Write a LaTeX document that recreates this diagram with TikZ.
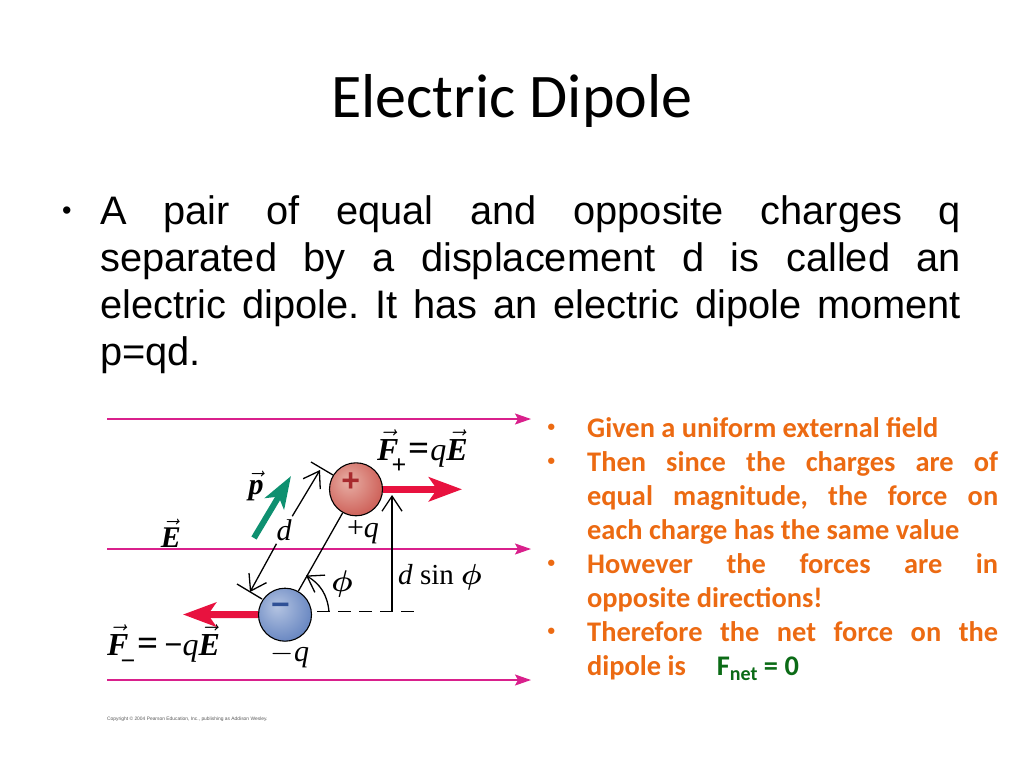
\documentclass[tikz,border=0pt]{standalone}
\usepackage{fix-cm}
\usepackage{fontspec}
\usetikzlibrary{arrows.meta}
\newfontfamily\slidefont{Carlito}
\newfontfamily\bodyfont{Liberation Sans}
\newfontfamily\labelfont{Liberation Serif}
\definecolor{fieldpink}{HTML}{D9208C}
\definecolor{forcered}{HTML}{E8123F}
\definecolor{momentgreen}{HTML}{0E9070}
\definecolor{noteorange}{HTML}{EC6A12}
\definecolor{netgreen}{HTML}{0B6B16}
\definecolor{poslight}{HTML}{E8B0A6}
\definecolor{posmid}{HTML}{D0675F}
\definecolor{posdark}{HTML}{A82A2E}
\definecolor{neglight}{HTML}{B4C4E2}
\definecolor{negmid}{HTML}{6F8CC4}
\definecolor{negdark}{HTML}{2F5096}
\pgfdeclareradialshading{posball}{\pgfpoint{-8bp}{8bp}}{color(0bp)=(poslight);color(28bp)=(posmid);color(55bp)=(posdark);color(72bp)=(posdark)}
\pgfdeclareradialshading{negball}{\pgfpoint{-8bp}{8bp}}{color(0bp)=(neglight);color(28bp)=(negmid);color(55bp)=(negdark);color(72bp)=(negdark)}
\newcommand{\vecbf}[1]{$\vec{\mbox{\bfseries\itshape #1}}$}
\newcommand{\bigeq}{{\bfseries\fontsize{37}{37}\selectfont =}}
\newcommand{\phibf}{\mbox{\boldmath$\phi$}}
\hbadness=10000
\frenchspacing
\tikzset{
  fieldline/.style={draw=fieldpink,line width=1.7pt,-{Stealth[length=16pt,width=11pt,inset=3pt]}},
  forcearrow/.style={draw=forcered,line width=7pt,-{Stealth[length=33pt,width=24pt,inset=8pt]}},
  momentarrow/.style={draw=momentgreen,line width=6pt,-{Stealth[length=32pt,width=22pt,inset=8pt]}},
  dimline/.style={line width=1.3pt,-{Straight Barb[length=15pt,width=20pt,line width=1.3pt]}},
  charge/.style={circle,draw,line width=1.1pt,minimum size=53pt,inner sep=0pt},
  sym/.style={font=\labelfont\fontsize{30}{30}\selectfont,inner sep=0pt},
  force/.style={font=\labelfont\fontsize{32}{32}\selectfont,inner sep=0pt,anchor=base west},
  notes/.style={font=\slidefont\bfseries\fontsize{28.4}{34}\selectfont,text=noteorange,inner sep=0pt},
  dot/.style={font=\slidefont\bfseries\fontsize{15}{15}\selectfont,text=noteorange,inner sep=0pt,anchor=base west},
}
\begin{document}
\begin{tikzpicture}[x=1pt,y=-1pt]
      \useasboundingbox (0,0) rectangle (1024,768);
      \draw
        (512,117) node[anchor=base,inner sep=0pt,font=\slidefont\fontsize{62}{62}\selectfont] (title){Electric Dipole}
        (62,219) node[anchor=base west,inner sep=0pt,font=\bodyfont\fontsize{27}{27}\selectfont] (bulleta){•}
        (100,195) node[anchor=north west,inner sep=0pt,text width=861pt,align=justify,font=\bodyfont\fontsize{39.8}{47.3}\selectfont] (intro){A pair of equal and opposite charges q\linebreak separated by a displacement d is called an\linebreak electric dipole. It has an electric dipole moment\linebreak p=qd.};
      \draw
        (107,419) coordinate (fieldaw)
        (531,419) coordinate (fieldae)
        (107,549) coordinate (fieldbw)
        (531,549) coordinate (fieldbe)
        (107,680) coordinate (fieldcw)
        (531,680) coordinate (fieldce)
        (254,538) coordinate (pstart)
        (291,476) coordinate (pend)
        (462,489.3) coordinate (fplusend)
        (183,614.5) coordinate (fminusend)
        (311,462) coordinate (ticka)
        (333,475) coordinate (tickb)
        (237,584) coordinate (tickc)
        (262,599) coordinate (tickd)
        (320,470) coordinate (dtop)
        (250,592) coordinate (dbottom)
        (329,611.7) coordinate (phistart)
        (306,575.5) coordinate (phiend)
        (317,611.7) coordinate (dashstart)
        (415,611.7) coordinate (dashend)
        (392,495) coordinate (sintop)
        (392,611.7) coordinate (sinbottom);
      \begin{scope}[fieldline]
        \draw (fieldaw) to (fieldae);
        \draw (fieldbw) to (fieldbe);
        \draw (fieldcw) to (fieldce);
      \end{scope}
      \draw
        (356,489.3) node[charge,shading=posball] (pos){}
        (285,614.7) node[charge,shading=negball] (neg){}
        (350.7,482) node[inner sep=0pt,text=posdark,font=\bodyfont\bfseries\fontsize{32}{32}\selectfont] (possign){+}
        (280.5,609) node[inner sep=0pt,text=negdark,font=\bodyfont\bfseries\fontsize{32}{32}\selectfont] (negsign){−}
        (284,530) node[sym,inner sep=3pt] (dlabel){\itshape d}
        (171,533) node[sym] (efield){\vecbf{E}}
        (256,486) node[sym] (plabel){\vecbf{p}}
        (363,532) node[sym] (qplus){+\textit{q}}
        (290,656) node[sym] (qminus){$-$\textit{q}}
        (342,584) node[sym] (philabel){\phibf}
        (440,577) node[sym,font=\labelfont\fontsize{29}{29}\selectfont] (sinlabel){\textit{d} sin \phibf}
        (377,460) node[force] (fplus){\vecbf{F}\kern-7pt\raisebox{-13pt}{\bfseries\fontsize{26}{26}\selectfont +}\kern2pt\bigeq\kern1pt\textit{q}\vecbf{E}}
        (107,655) node[force] (fminus){\vecbf{F}\kern-8pt\raisebox{-14pt}{\bfseries\fontsize{26}{26}\selectfont −}\kern2pt\bigeq\kern6pt\textbf{−}\textit{q}\vecbf{E}}
        (107,720) node[anchor=base west,inner sep=0pt,text=black!65,font=\bodyfont\fontsize{4.9}{6}\selectfont] (copyright){Copyright © 2004 Pearson Education, Inc., publishing as Addison Wesley.};
      \draw[forcearrow] (pos) to (fplusend);
      \draw[forcearrow] (neg) to (fminusend);
      \draw[momentarrow] (pstart) to (pend);
      \begin{scope}[line width=1.3pt]
        \draw (pos) to (neg);
        \draw (ticka) to (tickb);
        \draw (tickc) to (tickd);
        \draw[dash pattern=on 13pt off 8pt] (dashstart) to (dashend);
      \end{scope}
      \begin{scope}[dimline]
        \draw (dlabel) to (dtop);
        \draw (dlabel) to (dbottom);
        \draw (phistart) to[bend right=27] (phiend);
        \draw[{Straight Barb[length=15pt,width=20pt,line width=1.3pt]}-] (sintop) to (sinbottom);
      \end{scope}
      \draw
        (547.5,431) node[dot] (bulletb){•}
        (547.5,465) node[dot] (bulletc){•}
        (547.5,567) node[dot] (bulletd){•}
        (547.5,635.5) node[dot] (bullete){•}
        (587,417) node[anchor=north west,notes,text width=411pt,align=justify] (notetext){Given a uniform external field\newline Then since the charges are of\linebreak equal magnitude, the force on\linebreak each charge has the same value\newline However the forces are in\linebreak opposite directions!\newline Therefore the net force on the\linebreak dipole is\hspace{31pt}{\color{netgreen}F\raisebox{-5pt}{\fontsize{20}{20}\selectfont net} = 0}};
\end{tikzpicture}
\end{document}
